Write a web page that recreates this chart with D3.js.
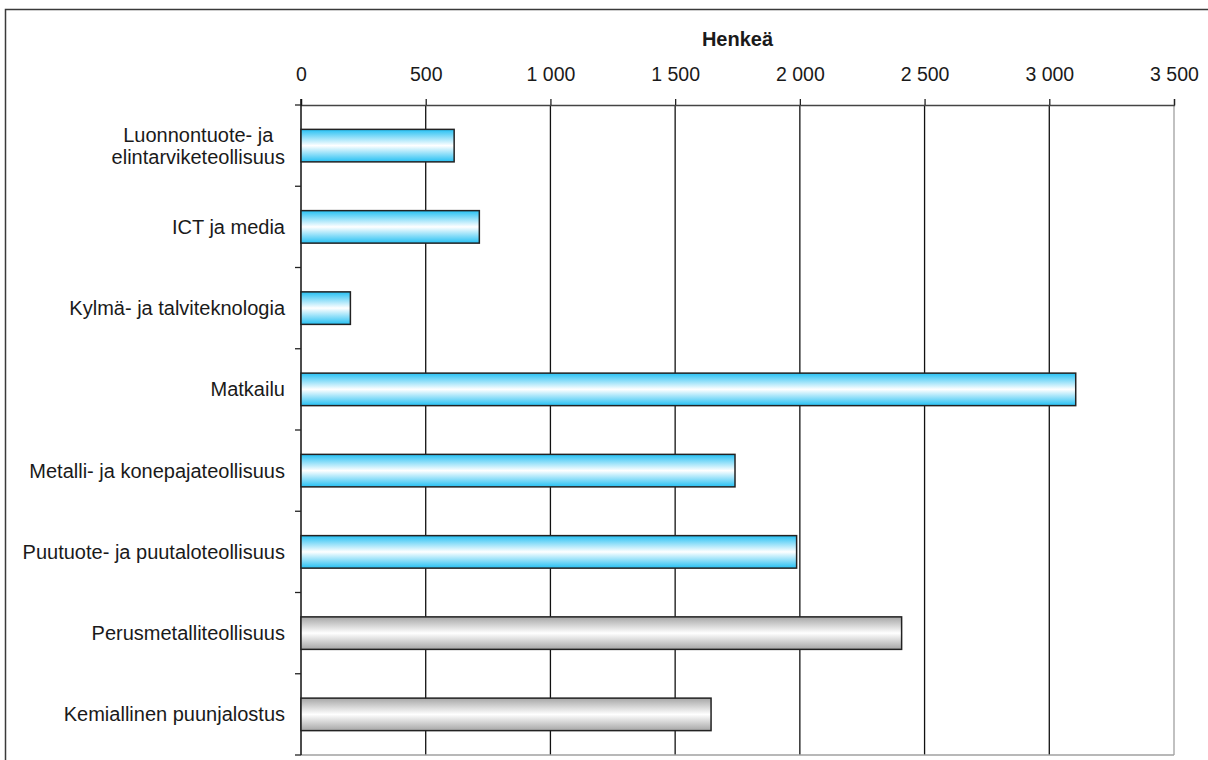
<!DOCTYPE html>
<html>
<head>
<meta charset="utf-8">
<title>Henkeä</title>
<script src="https://d3js.org/d3.v7.min.js"></script>
<style>
  body { margin: 0; background: #fff; }
  text { font-family: "Liberation Sans", Arial, sans-serif; fill: #1a1a1a; }
</style>
</head>
<body>
<script>
// data
var categories = [
  ["Luonnontuote- ja", "elintarviketeollisuus"],
  ["ICT ja media"],
  ["Kylmä- ja talviteknologia"],
  ["Matkailu"],
  ["Metalli- ja konepajateollisuus"],
  ["Puutuote- ja puutaloteollisuus"],
  ["Perusmetalliteollisuus"],
  ["Kemiallinen puunjalostus"]
]
var values = [614, 715, 198, 3106, 1740, 1987, 2408, 1644]
var groups = ["blue", "blue", "blue", "blue", "blue", "blue", "grey", "grey"]
var tickValues = [0, 500, 1000, 1500, 2000, 2500, 3000, 3500]
var axisTitle = "Henkeä"

var width = 1208, height = 760
var plotLeft = 301, plotRight = 1174, plotTop = 105, plotBottom = 755

var svg = d3.select("body").append("svg")
  .attr("width", width)
  .attr("height", height)

// gradients
var defs = svg.append("defs")
var grads = {blue: "#25c0f3", grey: "#a6a6a6"}
Object.keys(grads).forEach(function(k) {
  var g = defs.append("linearGradient").attr("id", "g-" + k)
    .attr("x1", 0).attr("y1", 0).attr("x2", 0).attr("y2", 1)
  g.append("stop").attr("offset", "0%").attr("stop-color", grads[k])
  g.append("stop").attr("offset", "50%").attr("stop-color", "#ffffff")
  g.append("stop").attr("offset", "100%").attr("stop-color", grads[k])
})

// frame
svg.append("rect")
  .attr("x", 5.5).attr("y", 9.5)
  .attr("width", width + 10).attr("height", height + 10)
  .attr("fill", "none").attr("stroke", "#3a3a3a").attr("stroke-width", 1.5)

var x = d3.scaleLinear().domain([0, 3500]).range([plotLeft, plotRight])
var y = d3.scaleBand().domain(d3.range(categories.length)).range([plotTop, plotBottom])
  .paddingInner(0.6).paddingOuter(0.3)

// gridlines
svg.append("g").selectAll("line")
  .data(tickValues.slice(1))
  .enter().append("line")
  .attr("x1", d => x(d)).attr("x2", d => x(d))
  .attr("y1", plotTop).attr("y2", plotBottom)
  .attr("stroke", d => d === 3500 ? "#a0a0a0" : "#111")
  .attr("stroke-width", 1.3)

// bottom line
svg.append("line")
  .attr("x1", plotLeft).attr("x2", plotRight)
  .attr("y1", plotBottom).attr("y2", plotBottom)
  .attr("stroke", "#a0a0a0").attr("stroke-width", 1.3)

// top axis
var xAxis = svg.append("g")
  .attr("transform", "translate(0," + plotTop + ")")
  .call(d3.axisTop(x).tickValues(tickValues).tickSize(6).tickPadding(18)
    .tickFormat(d => d3.format(",")(d).replace(",", " ")))
xAxis.select(".domain").attr("stroke", "#444").attr("stroke-width", 1.3)
xAxis.selectAll(".tick line").attr("stroke", "#222").attr("stroke-width", 1.3)
xAxis.selectAll(".tick text")
  .attr("font-size", "19.5px").attr("font-family", null).attr("fill", "#1a1a1a")

svg.append("text")
  .attr("x", (plotLeft + plotRight) / 2).attr("y", 46)
  .attr("text-anchor", "middle")
  .attr("font-size", "20px").attr("font-weight", "bold")
  .text(axisTitle)

// left axis with ticks at category boundaries
var band = (plotBottom - plotTop) / categories.length
svg.append("line")
  .attr("x1", plotLeft).attr("x2", plotLeft)
  .attr("y1", plotTop - 6).attr("y2", plotBottom)
  .attr("stroke", "#111").attr("stroke-width", 1.5)
svg.append("g").selectAll("line")
  .data(d3.range(categories.length + 1))
  .enter().append("line")
  .attr("x1", plotLeft - 6).attr("x2", plotLeft)
  .attr("y1", i => plotTop + i * band).attr("y2", i => plotTop + i * band)
  .attr("stroke", "#222").attr("stroke-width", 1.3)

// bars
svg.append("g").selectAll("rect")
  .data(values)
  .enter().append("rect")
  .attr("x", x(0))
  .attr("y", (d, i) => y(i))
  .attr("width", d => x(d) - x(0))
  .attr("height", y.bandwidth())
  .attr("fill", (d, i) => "url(#g-" + groups[i] + ")")
  .attr("stroke", "#222").attr("stroke-width", 1.5)

// category labels
var labelRight = 285
categories.forEach(function(lines, i) {
  var cy = y(i) + y.bandwidth() / 2
  var lh = 22
  var t = svg.append("text").attr("font-size", "20px")
  var nodes = lines.map(function(s, j) {
    return t.append("tspan")
      .attr("y", cy + (j - (lines.length - 1) / 2) * lh)
      .attr("dy", "0.35em")
      .text(s)
  })
  var maxW = d3.max(nodes, n => n.node().getComputedTextLength())
  t.attr("text-anchor", "middle")
  nodes.forEach(n => n.attr("x", labelRight - maxW / 2))
})
</script>
</body>
</html>
